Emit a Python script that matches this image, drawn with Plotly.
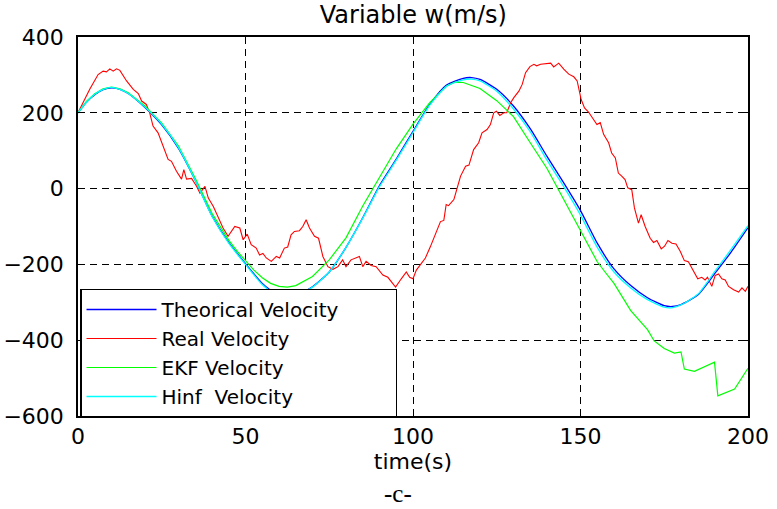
import plotly.graph_objects as go

# ---- data ----
t_model = [0, 2.5, 5, 7.5, 10, 12.5, 15, 20, 25, 30, 35, 40, 45, 50, 55, 60, 62.5, 65, 70, 75,
           80, 85, 90, 95, 100, 105, 110, 115, 117.5, 120, 125, 130, 135, 140, 145, 150, 155,
           160, 165, 170, 175, 177.5, 180, 185, 190, 195, 200]
v_theory = [200, 228, 248, 261, 266, 262, 251, 214, 168, 106, 22, -72, -142, -198, -250, -284, -290,
            -283, -259, -220, -155, -77, 8, 78, 151, 222, 273, 291, 293, 288, 262, 218, 158, 85, 15,
            -58, -144, -212, -256, -288, -309, -311, -306, -281, -225, -167, -103]
v_hinf = [200, 228, 249, 262, 267, 262, 251, 215, 170, 108, 22, -73, -144, -200, -253, -287, -292,
          -285, -260, -220, -155, -78, 5, 75, 148, 220, 270, 287, 289, 284, 257, 210, 150, 75, 5,
          -70, -155, -220, -262, -293, -313, -314, -307, -279, -220, -160, -98]

t_ekf = [0, 2.5, 5, 7.5, 10, 12.5, 15, 20, 25, 30, 35, 40, 45, 47.5, 50, 52.5, 55, 57.5, 60, 62.5,
         65, 70, 75, 80, 85, 90, 95, 100, 105, 110, 112.5, 115, 120, 125, 130, 135, 140, 145, 150,
         155, 157.5, 160, 165, 170, 172, 175, 178, 180, 181, 184, 190, 191, 196, 200]
v_ekf = [200, 230, 250, 263, 268, 263, 253, 218, 173, 112, 27, -65, -136, -165, -190, -215, -235,
         -250, -258, -260, -256, -232, -188, -130, -46, 30, 105, 170, 227, 270, 281, 280, 264, 232,
         190, 121, 53, -29, -112, -193, -222, -250, -322, -372, -402, -422, -434, -431, -476, -482,
         -458, -547, -529, -474]

t_real = [0, 1, 3.5, 6, 7.5, 8.5, 9.5, 10.5, 11.5, 12.5, 14.5, 16.5, 18, 19, 20.4, 21.4, 22.4, 23.9,
          25.4, 26.9, 27.9, 29.4, 30.9, 31.6, 32.4, 33.9, 35.4, 36.4, 37.9, 38.9, 40.4, 41.9, 43.3,
          44.8, 46.8, 48.3, 49.3, 50.5, 51.7, 53.2, 54.2, 55.2, 56.2, 57.7, 59.2, 60.2, 61.6, 62.6,
          63.6, 64.6, 66.1, 67.1, 68.1, 69.1, 70.6, 71.8, 73.1, 74.6, 76.1, 77.6, 79, 80, 81.5, 84,
          85, 86, 87.5, 89, 91, 92.5, 94.8, 96.5, 98, 99, 100, 101, 102.2, 103.7, 105.2, 106.7,
          108.2, 109.2, 109.9, 110.6, 112.2, 113.2, 114.2, 115.7, 116.7, 118.1, 119.6, 120.6, 122.1,
          123.1, 124.1, 124.9, 125.9, 127.1, 128, 129.1, 130.1, 131.6, 132.6, 133.6, 134.9, 136.1,
          136.9, 138.1, 140.1, 141.1, 142, 143.5, 145, 146.5, 148, 149, 150.2, 151.2, 152.4, 153.9,
          154.9, 155.9, 156.9, 158.4, 159.3, 160.4, 161.3, 162.3, 163.3, 164.1, 165.3, 166.1, 167.3,
          168.1, 169.3, 170.8, 171.8, 172.8, 174.1, 175.1, 176.1, 177.3, 178.5, 179.8, 181, 182.2,
          183.7, 185, 186.2, 187.2, 187.9, 189.2, 190.2, 191.2, 192.2, 193.2, 194.2, 195.7, 197.2,
          198.2, 199.2, 200]
v_real = [200, 218, 262, 301, 310, 308, 316, 310, 316, 312, 284, 262, 251, 231, 222, 200, 165, 147,
          112, 77, 72, 46, 25, 50, 25, 27, 6, -12, 6, -25, -47, -78, -104, -126, -100, -104, -135,
          -120, -148, -157, -175, -171, -183, -192, -179, -183, -157, -154, -122, -113, -111, -100,
          -82, -104, -126, -131, -179, -206, -213, -206, -188, -206, -188, -179, -206, -192, -203,
          -206, -228, -234, -260, -238, -220, -234, -238, -215, -200, -183, -153, -122, -87, -84,
          -42, -45, -29, 2, 33, 59, 62, 103, 121, 147, 156, 169, 200, 204, 193, 200, 200, 226, 240,
          257, 275, 306, 322, 328, 324, 328, 330, 331, 321, 331, 315, 302, 295, 284, 235, 213, 202,
          182, 169, 174, 143, 121, 94, 81, 41, 33, 24, 2, -3, -51, -91, -69, -100, -131, -142, -137,
          -159, -152, -137, -144, -146, -166, -190, -193, -216, -238, -234, -241, -234, -258, -229,
          -225, -238, -241, -258, -267, -273, -262, -271, -258]

series_names = ["Theorical Velocity", "Real Velocity", "EKF Velocity", "Hinf  Velocity"]
x_ticks = [0, 50, 100, 150, 200]
y_ticks = [-600, -400, -200, 0, 200, 400]

FONT = "DejaVu Sans"
NB = "\u00a0"

fig = go.Figure()
fig.add_trace(go.Scatter(x=t_model, y=v_theory, mode="lines", name=series_names[0] + NB * 8,
                         line=dict(color="#0000FF", width=1.3, shape="spline", smoothing=0.6)))
fig.add_trace(go.Scatter(x=t_real, y=v_real, mode="lines", name=series_names[1],
                         line=dict(color="#FF0000", width=1.1)))
fig.add_trace(go.Scatter(x=t_ekf, y=v_ekf, mode="lines", name=series_names[2],
                         line=dict(color="#00FF00", width=1.2)))
fig.add_trace(go.Scatter(x=t_model, y=v_hinf, mode="lines", name=series_names[3],
                         line=dict(color="#00FFFF", width=1.3, shape="spline", smoothing=0.6)))

axis_common = dict(
    showline=True, linecolor="black", linewidth=1.5, mirror="ticks",
    ticks="inside", ticklen=5, tickcolor="black", tickwidth=1,
    showgrid=True, gridcolor="black", gridwidth=1, griddash="7px,5px",
    zeroline=False, automargin=False,
    tickfont=dict(family=FONT, size=22, color="black"),
)

fig.update_layout(
    width=777, height=509,
    margin=dict(l=78, r=29, t=37, b=93),
    paper_bgcolor="white", plot_bgcolor="white",
    title=dict(text="Variable w(m/s)", x=0.532, xanchor="center", y=0.972, yanchor="middle",
               font=dict(family=FONT, size=24, color="black"), automargin=False),
    xaxis=dict(range=[0, 200], tickvals=x_ticks,
               title=dict(text="time(s)", font=dict(family=FONT, size=22, color="black"), standoff=0),
               **axis_common),
    yaxis=dict(range=[-600, 400], tickvals=y_ticks, ticklabelstandoff=8, **axis_common),
    legend=dict(x=0.003, y=-0.004, xanchor="left", yanchor="bottom", bgcolor="white",
                bordercolor="black", borderwidth=1.5, itemwidth=70,
                font=dict(family=FONT, size=20, color="black"), tracegroupgap=0),
    showlegend=True,
)

fig.add_annotation(text="-c-", xref="paper", yref="paper", x=0.477, y=-0.205,
                   xanchor="center", yanchor="middle", showarrow=False,
                   font=dict(family="Liberation Serif", size=25, color="black"))

fig.write_html("out.html")
